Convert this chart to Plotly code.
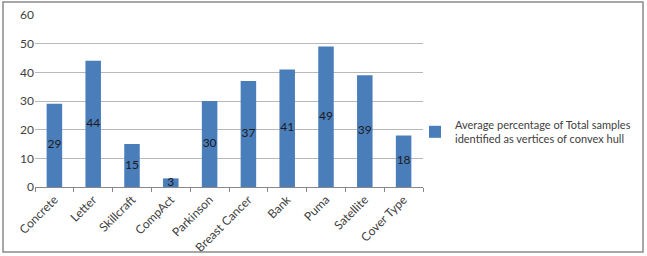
import plotly.graph_objects as go

categories = ["Concrete", "Letter", "Skillcraft", "CompAct", "Parkinson",
              "Breast Cancer", "Bank", "Puma", "Satellite", "Cover Type"]
values = [29, 44, 15, 3, 30, 37, 41, 49, 39, 18]
series_name = "Average percentage of Total samples<br>identified as vertices of convex hull"
y_ticks = [0, 10, 20, 30, 40, 50, 60]

FONT = "Lato, Open Sans, sans-serif"

fig = go.Figure()
fig.add_trace(go.Bar(
    x=categories, y=values, name=series_name,
    marker=dict(color="#4a7ebb", line=dict(width=0)),
    showlegend=True,
))
fig.add_trace(go.Scatter(
    x=categories, y=[v / 2 for v in values], mode="text",
    text=[str(v) for v in values],
    textfont=dict(family=FONT, size=12, color="#1a1a1a"),
    showlegend=False, hoverinfo="skip",
))

L, R, T, B = 35, 224, 15, 69
W, H = 647, 256
pw, ph = W - L - R, H - T - B

fig.update_layout(
    width=W, height=H,
    margin=dict(l=L, r=R, t=T, b=B, autoexpand=False),
    paper_bgcolor="white", plot_bgcolor="white",
    bargap=0.6,
    font=dict(family=FONT, size=12, color="#404040"),
    showlegend=True,
    legend=dict(x=(415 - L) / pw, y=(187 - 132) / ph, xanchor="left", yanchor="middle",
                font=dict(size=11, color="#404040"), itemwidth=30,
                bgcolor="rgba(0,0,0,0)"),
    xaxis=dict(tickangle=-45, showgrid=False, showline=True, linecolor="#888888",
               ticks="outside", tickson="boundaries", ticklen=4, tickcolor="#888888",
               automargin=False,
               tickfont=dict(size=12, color="#404040")),
    yaxis=dict(range=[0, 60], tickvals=y_ticks, showgrid=True, gridcolor="#b8b8b8",
               gridwidth=1, showline=False, zeroline=False, ticks="", automargin=False,
               tickfont=dict(size=12, color="#404040")),
    shapes=[dict(type="rect", xref="paper", yref="paper",
                 x0=(3 - L) / pw, x1=(643 - L) / pw,
                 y0=(187 - 252) / ph, y1=(187 - 2) / ph,
                 line=dict(color="#8a8a8a", width=1.5), fillcolor="rgba(0,0,0,0)")],
)

fig.write_html("out.html")
